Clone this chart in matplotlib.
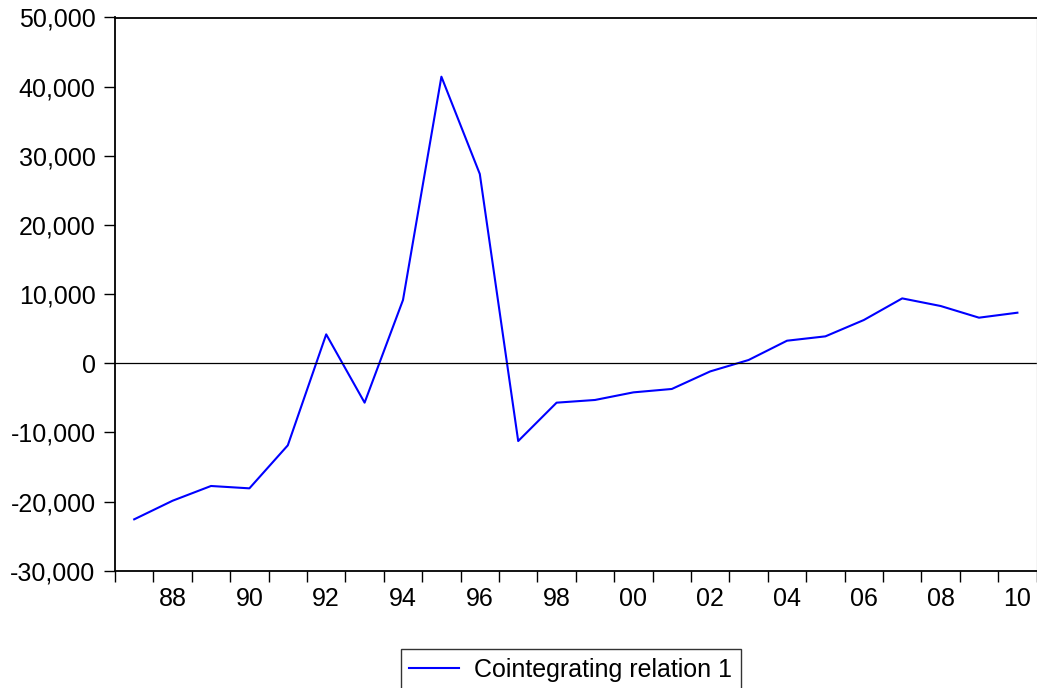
import matplotlib
matplotlib.use("Agg")
import matplotlib.pyplot as plt
import numpy as np
from matplotlib.ticker import FuncFormatter

plt.rcParams['font.family'] = ['Liberation Sans', 'DejaVu Sans']

years = np.arange(1987, 2011)
values = [-22570, -19880, -17750, -18090, -11870, 4180, -5700, 9150,
          41440, 27370, -11250, -5700, -5310, -4210, -3720, -1180,
          470, 3260, 3890, 6250, 9380, 8280, 6590, 7310]
label_years = np.arange(1988, 2011, 2)
series_name = "Cointegrating relation 1"

fig = plt.figure(figsize=(10.37, 6.88), dpi=100)
ax = fig.add_axes([115 / 1037, 1 - 570.7 / 688, (1036.6 - 115) / 1037, (570.7 - 17.5) / 688])

ax.plot(years + 0.5, values, color=(0, 0, 1), lw=1.5, label=series_name)
ax.axhline(0, color='black', lw=0.9)

ax.set_xlim(1987, 2011)
ax.set_ylim(-30000, 50000)
ax.set_yticks(np.arange(-30000, 50001, 10000))
ax.yaxis.set_major_formatter(FuncFormatter(lambda v, p: f"{int(v):,}"))

ax.set_xticks(np.arange(1987, 2012))
ax.set_xticklabels([])
ax.set_xticks(label_years + 0.5, minor=True)
ax.set_xticklabels([f"{y % 100:02d}" for y in label_years], minor=True)

ax.tick_params(axis='y', direction='out', length=8, width=1, labelsize=18, pad=6)
ax.tick_params(axis='x', which='major', direction='out', length=8, width=1)
ax.tick_params(axis='x', which='minor', length=0, labelsize=18, pad=12)

for s in ['left', 'bottom', 'top']:
    ax.spines[s].set_linewidth(1.3)
    ax.spines[s].set_color('black')
ax.spines['right'].set_color('#d0d0d0')
ax.spines['right'].set_linewidth(1)

leg = fig.legend(loc='upper left', bbox_to_anchor=(400.7 / 1037, 1 - 649 / 688),
                 fontsize=18, frameon=True, fancybox=False, borderpad=0.35,
                 handlelength=2.0, handletextpad=0.6, borderaxespad=0)
leg.get_frame().set_edgecolor('black')
leg.get_frame().set_linewidth(1)

fig.savefig("out.png", dpi=100)
